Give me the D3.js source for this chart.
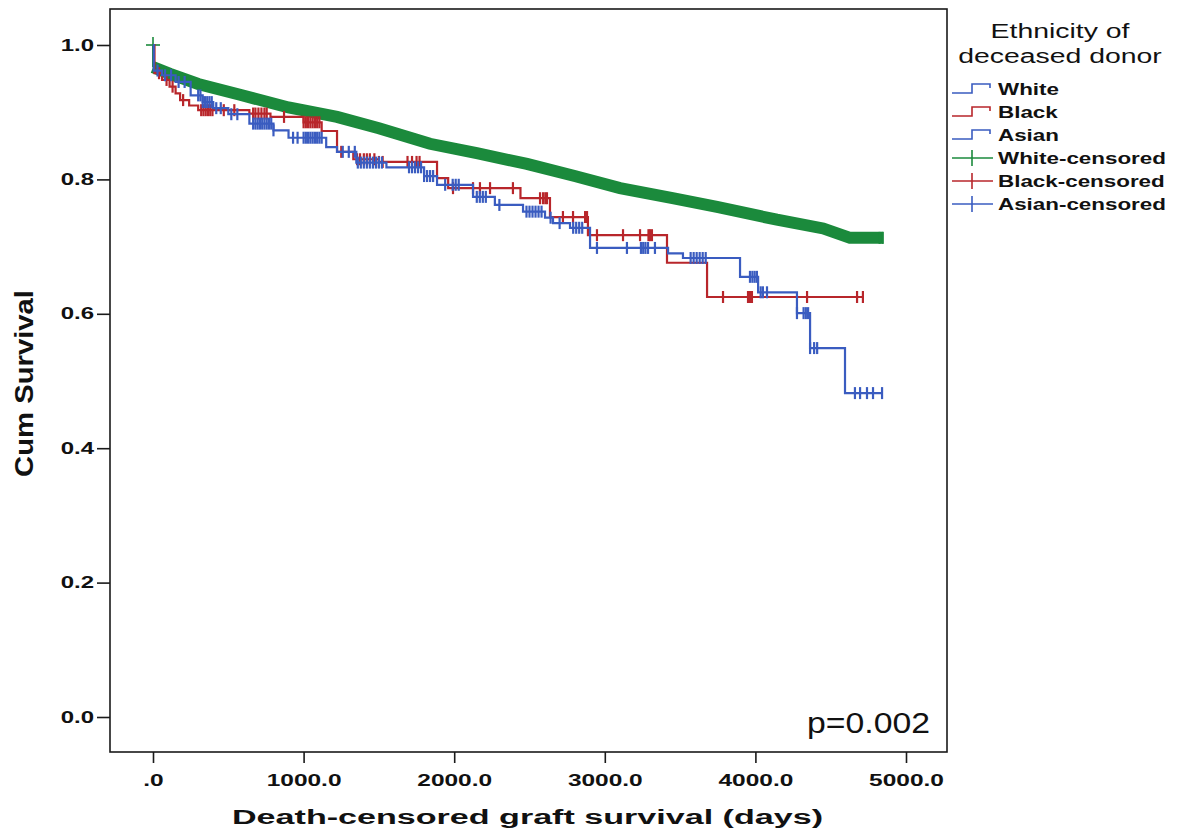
<!DOCTYPE html>
<html>
<head>
<meta charset="utf-8">
<script src="https://cdn.jsdelivr.net/npm/d3@7"></script>
<style>
body { margin: 0; background: #fff; }
svg text { font-family: "Liberation Sans", Arial, sans-serif; fill: #111; }
</style>
</head>
<body>
<div id="chart"></div>
<script>
// axis ticks
const xTicks = [0, 1000, 2000, 3000, 4000, 5000];
const xTickLabels = [".0", "1000.0", "2000.0", "3000.0", "4000.0", "5000.0"];
const yTicks = [0, 0.2, 0.4, 0.6, 0.8, 1.0];
const yTickLabels = ["0.0", "0.2", "0.4", "0.6", "0.8", "1.0"];

// White donors: dense censoring makes a band, read as a smooth curve
const whiteTime = [0, 113, 300, 578, 900, 1222, 1500, 1839, 2150, 2483, 2800, 3101, 3450, 3745, 4143, 4450, 4628, 4807, 4850];
const whiteSurv = [0.967, 0.957, 0.942, 0.926, 0.907, 0.893, 0.876, 0.853, 0.839, 0.823, 0.805, 0.787, 0.772, 0.759, 0.740, 0.727, 0.713, 0.713, 0.713];
const whiteCensor = [0, 4825, 4845];

// Black donors (step points)
const blackTime = [0, 10, 60, 110, 150, 180, 240, 300, 640, 780, 1000, 1120, 1222, 1330, 1500, 1886, 1960, 2440, 2636, 2888, 3413, 3679, 4714];
const blackSurv = [1.0, 0.958, 0.948, 0.938, 0.928, 0.918, 0.910, 0.903, 0.898, 0.893, 0.885, 0.872, 0.841, 0.830, 0.826, 0.802, 0.787, 0.772, 0.744, 0.717, 0.676, 0.625, 0.625];
const blackCensor = [40, 90, 130, 200, 320, 335, 350, 365, 380, 395, 470, 540, 665, 680, 700, 720, 740, 755, 870, 1000, 1015, 1030, 1045, 1060, 1075, 1090, 1105, 1250, 1355, 1375, 1400, 1420, 1440, 1470, 1500, 1525, 1690, 1720, 1750, 1770, 1992, 2125, 2171, 2238, 2390, 2570, 2590, 2605, 2616, 2722, 2789, 2869, 2882, 2948, 3121, 3234, 3290, 3300, 3313, 3785, 3951, 3960, 3970, 3977, 4343, 4675, 4714];

// Asian donors (step points)
const asianTime = [0, 5, 60, 150, 250, 330, 400, 500, 640, 800, 900, 1150, 1222, 1350, 1550, 1800, 1886, 2125, 2270, 2457, 2603, 2656, 2769, 2902, 3420, 3519, 3898, 4018, 4276, 4363, 4595, 4841];
const asianSurv = [1.0, 0.962, 0.955, 0.945, 0.925, 0.915, 0.906, 0.897, 0.883, 0.873, 0.862, 0.848, 0.841, 0.825, 0.818, 0.805, 0.792, 0.774, 0.762, 0.752, 0.743, 0.735, 0.728, 0.698, 0.690, 0.683, 0.655, 0.632, 0.601, 0.549, 0.482, 0.482];
const asianCensor = [30, 80, 120, 170, 210, 300, 315, 330, 345, 360, 375, 390, 420, 450, 520, 560, 665, 680, 695, 710, 725, 740, 755, 770, 785, 800, 930, 960, 1000, 1015, 1030, 1045, 1060, 1075, 1090, 1105, 1120, 1260, 1300, 1340, 1360, 1380, 1400, 1420, 1440, 1460, 1480, 1500, 1520, 1700, 1720, 1740, 1760, 1780, 1800, 1820, 1840, 1860, 1940, 1990, 2010, 2030, 2150, 2170, 2190, 2210, 2300, 2480, 2500, 2520, 2540, 2560, 2580, 2640, 2700, 2790, 2810, 2830, 2850, 2948, 3147, 3240, 3255, 3270, 3287, 3333, 3570, 3590, 3610, 3630, 3650, 3670, 3964, 3980, 3995, 4010, 4035, 4050, 4077, 4276, 4320, 4335, 4350, 4363, 4390, 4410, 4661, 4695, 4741, 4781, 4841];

const legendTitle = ["Ethnicity of", "deceased donor"];
const legendLabels = ["White", "Black", "Asian", "White-censored", "Black-censored", "Asian-censored"];
const legendColors = ["#3a5cc0", "#b8262b", "#3a5cc0", "#1b8a3c", "#b8262b", "#3a5cc0"];

const greenCol = "#1b8a3c";
const redCol = "#b8262b";
const blueCol = "#3a5cc0";

const xScale = d3.scaleLinear().domain([0, 5000]).range([153, 906]);
const yScale = d3.scaleLinear().domain([0, 1]).range([717, 45]);

const svg = d3.select("#chart")
  .append("svg")
  .attr("width", 1183)
  .attr("height", 835);

function survAt(times, survs, t) {
    let s = survs[0];
    for (let i = 0; i < times.length; i++) {
        if (times[i] <= t) s = survs[i];
    }
    return s;
}

function zipPts(times, survs) {
    return times.map((t, i) => [t, survs[i]]);
}

const stepLine = d3.line()
  .x(d => xScale(d[0]))
  .y(d => yScale(d[1]))
  .curve(d3.curveStepAfter);

const smoothLine = d3.line()
  .x(d => xScale(d[0]))
  .y(d => yScale(d[1]));

function drawCensor(times, stepT, stepS, color, h) {
    svg.append("g").selectAll("line")
      .data(times)
      .join("line")
      .attr("x1", d => xScale(d))
      .attr("x2", d => xScale(d))
      .attr("y1", d => yScale(survAt(stepT, stepS, d)) - h)
      .attr("y2", d => yScale(survAt(stepT, stepS, d)) + h)
      .attr("stroke", color)
      .attr("stroke-width", 2.2);
}

// frame
svg.append("rect")
  .attr("x", 110).attr("y", 9)
  .attr("width", 837).attr("height", 743)
  .attr("fill", "none")
  .attr("stroke", "#1a1a1a")
  .attr("stroke-width", 1.6);

// y axis
const yAxis = d3.axisLeft(yScale)
  .tickValues(yTicks)
  .tickFormat((d, i) => yTickLabels[i])
  .tickSize(13)
  .tickSizeOuter(0);
const gy = svg.append("g").attr("transform", "translate(110,0)").call(yAxis);
gy.select(".domain").remove();
gy.selectAll(".tick line").attr("stroke", "#1a1a1a").attr("stroke-width", 1.6);
gy.selectAll(".tick text")
  .attr("x", null)
  .attr("transform", "translate(-16,0) scale(1.5,1)")
  .attr("font-size", 16)
  .attr("font-weight", "bold");

// x axis
const xAxis = d3.axisBottom(xScale)
  .tickValues(xTicks)
  .tickFormat((d, i) => xTickLabels[i])
  .tickSize(11)
  .tickSizeOuter(0);
const gx = svg.append("g").attr("transform", "translate(0,752)").call(xAxis);
gx.select(".domain").remove();
gx.selectAll(".tick line").attr("stroke", "#1a1a1a").attr("stroke-width", 1.6);
gx.selectAll(".tick text")
  .attr("y", null)
  .attr("dy", null)
  .attr("transform", "translate(0,34) scale(1.53,1)")
  .attr("font-size", 16)
  .attr("font-weight", "bold");

// axis titles
svg.append("text")
  .attr("x", 232).attr("y", 824)
  .attr("font-size", 20)
  .attr("font-weight", "bold")
  .attr("textLength", 591)
  .attr("lengthAdjust", "spacingAndGlyphs")
  .text("Death-censored graft survival (days)");

svg.append("text")
  .attr("transform", "translate(33,477) rotate(-90)")
  .attr("font-size", 26)
  .attr("font-weight", "bold")
  .attr("textLength", 187)
  .attr("lengthAdjust", "spacingAndGlyphs")
  .text("Cum Survival");

// white band
svg.append("line")
  .attr("x1", xScale(0)).attr("x2", xScale(0))
  .attr("y1", yScale(1.0)).attr("y2", yScale(whiteSurv[0]))
  .attr("stroke", greenCol).attr("stroke-width", 2);
svg.append("path")
  .attr("d", smoothLine(zipPts(whiteTime, whiteSurv)))
  .attr("fill", "none")
  .attr("stroke", greenCol)
  .attr("stroke-width", 12);
// start cross at 1.0
svg.append("line")
  .attr("x1", xScale(0) - 7).attr("x2", xScale(0) + 7)
  .attr("y1", yScale(1.0)).attr("y2", yScale(1.0))
  .attr("stroke", greenCol).attr("stroke-width", 1.6);
svg.append("line")
  .attr("x1", xScale(0)).attr("x2", xScale(0))
  .attr("y1", yScale(1.0) - 8).attr("y2", yScale(1.0) + 6)
  .attr("stroke", greenCol).attr("stroke-width", 1.6);
drawCensor(whiteCensor.slice(1), whiteTime, whiteSurv, greenCol, 6);

// black
svg.append("path")
  .attr("d", stepLine(zipPts(blackTime, blackSurv)))
  .attr("fill", "none")
  .attr("stroke", redCol)
  .attr("stroke-width", 2.2);
drawCensor(blackCensor, blackTime, blackSurv, redCol, 6);

// asian
svg.append("path")
  .attr("d", stepLine(zipPts(asianTime, asianSurv)))
  .attr("fill", "none")
  .attr("stroke", blueCol)
  .attr("stroke-width", 2.2);
drawCensor(asianCensor, asianTime, asianSurv, blueCol, 6);

// p value
svg.append("text")
  .attr("x", 807).attr("y", 733)
  .attr("font-family", "'Open Sans', sans-serif")
  .attr("font-size", 29)
  .attr("textLength", 123)
  .attr("lengthAdjust", "spacingAndGlyphs")
  .text("p=0.002");

// legend
const leg = svg.append("g");
legendTitle.forEach((t, i) => {
    leg.append("text")
      .attr("transform", `translate(1060,${38 + i * 25}) scale(1.42,1)`)
      .attr("text-anchor", "middle")
      .attr("font-size", 20)
      .text(t);
});

const rowY = d3.range(legendLabels.length).map(i => 89 + i * 23);
legendLabels.forEach((lab, i) => {
    const cy = rowY[i];
    const col = legendColors[i];
    if (i < 3) {
        leg.append("path")
          .attr("d", `M952,${cy + 4}H972V${cy - 5}H990V${cy - 1}`)
          .attr("fill", "none")
          .attr("stroke", col)
          .attr("stroke-width", 1.6);
    } else {
        leg.append("line")
          .attr("x1", 952).attr("x2", 993)
          .attr("y1", cy).attr("y2", cy)
          .attr("stroke", col).attr("stroke-width", 1.6);
        leg.append("line")
          .attr("x1", 972).attr("x2", 972)
          .attr("y1", cy - 8).attr("y2", cy + 8)
          .attr("stroke", col).attr("stroke-width", 1.6);
    }
    leg.append("text")
      .attr("transform", `translate(998,${cy + 6}) scale(1.4,1)`)
      .attr("font-size", 16)
      .attr("font-weight", "bold")
      .text(lab);
});
</script>
</body>
</html>
